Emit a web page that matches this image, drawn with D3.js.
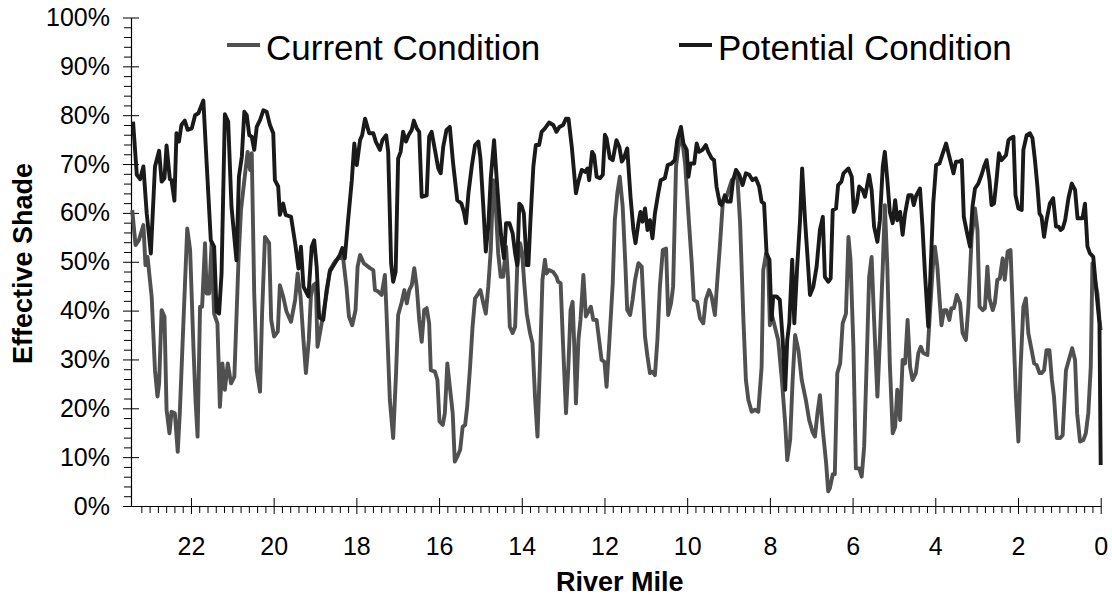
<!DOCTYPE html>
<html>
<head>
<meta charset="utf-8">
<script src="https://cdn.jsdelivr.net/npm/d3@7"></script>
<style>
  body { margin: 0; background: #fff; }
  text { font-family: "Liberation Sans", Arial, sans-serif; fill: #000; }
</style>
</head>
<body>
<div id="grafico"></div>
<script>
// River mile vs effective shade (%)

const currentCondition = [
  [23.42,60.6],[23.34,53.4],[23.26,54.4],[23.15,57.5],[23.10,49.3],[23.05,51.0],[22.95,42.8],[22.87,27.8],[22.81,22.4],[22.77,25.1],
  [22.71,40.1],[22.64,38.8],[22.59,19.7],[22.52,14.9],[22.47,19.3],[22.39,19.0],[22.32,11.1],[22.27,19.0],[22.19,36.0],[22.09,56.8],
  [22.02,52.4],[21.94,32.6],[21.89,21.7],[21.84,14.2],[21.78,40.8],[21.73,40.8],[21.66,53.8],[21.62,43.5],[21.56,43.5],[21.50,53.8],
  [21.44,39.4],[21.36,37.4],[21.30,20.3],[21.24,29.2],[21.18,23.8],[21.11,29.2],[21.03,25.1],[20.95,26.5],[20.85,50.4],[20.79,60.6],
  [20.69,68.1],[20.63,72.5],[20.57,68.8],[20.53,72.2],[20.47,43.5],[20.41,27.8],[20.33,23.4],[20.28,39.4],[20.21,55.1],[20.11,53.8],
  [20.06,38.1],[19.99,34.7],[19.90,35.7],[19.85,45.2],[19.77,42.9],[19.69,39.8],[19.58,37.7],[19.48,42.2],[19.42,47.6],[19.35,42.9],
  [19.28,34.0],[19.22,27.2],[19.15,34.0],[19.10,42.9],[19.04,45.2],[18.98,45.6],[18.94,32.6],[18.88,35.4],[18.80,39.4],[18.72,43.5],
  [18.64,48.3],[18.52,50.0],[18.40,51.0],[18.32,50.7],[18.24,44.9],[18.18,38.8],[18.10,37.0],[18.02,40.1],[17.97,49.0],[17.91,51.4],
  [17.82,49.7],[17.67,48.7],[17.59,48.3],[17.55,44.2],[17.47,43.9],[17.39,43.2],[17.31,47.3],[17.27,39.4],[17.19,21.7],[17.11,13.9],
  [17.04,27.2],[16.99,39.1],[16.91,41.5],[16.84,44.2],[16.78,41.5],[16.72,44.2],[16.66,45.2],[16.60,48.7],[16.54,44.9],[16.48,38.1],
  [16.42,33.6],[16.36,40.1],[16.30,40.5],[16.24,37.4],[16.20,27.8],[16.10,27.5],[16.04,25.8],[15.99,17.3],[15.91,16.6],[15.86,19.0],
  [15.80,29.2],[15.74,24.4],[15.67,19.0],[15.62,9.1],[15.56,10.1],[15.49,11.5],[15.43,16.2],[15.37,16.6],[15.32,20.3],[15.25,28.5],
  [15.19,36.7],[15.13,42.5],[15.05,43.5],[15.00,44.2],[14.93,41.5],[14.87,39.4],[14.81,44.9],[14.75,52.4],[14.69,66.7],[14.62,59.9],
  [14.57,51.7],[14.51,46.9],[14.45,46.9],[14.38,53.1],[14.33,46.3],[14.29,36.7],[14.22,35.4],[14.16,36.7],[14.11,49.0],[14.04,53.8],
  [13.99,51.7],[13.94,45.6],[13.88,39.4],[13.80,35.4],[13.74,33.3],[13.68,22.4],[13.62,14.2],[13.56,29.2],[13.50,46.3],[13.44,50.4],
  [13.40,47.6],[13.34,48.3],[13.24,47.9],[13.16,46.9],[13.12,45.9],[13.06,45.6],[13.00,32.6],[12.93,19.0],[12.87,29.2],[12.82,40.1],
  [12.77,41.8],[12.73,32.6],[12.69,21.0],[12.63,34.0],[12.58,38.1],[12.51,47.3],[12.45,38.8],[12.39,39.8],[12.33,40.8],[12.27,38.1],
  [12.19,38.1],[12.12,33.3],[12.07,29.9],[12.00,29.5],[11.95,24.4],[11.88,34.0],[11.80,45.6],[11.75,58.5],[11.69,64.0],[11.63,67.4],
  [11.56,61.3],[11.50,50.4],[11.45,40.1],[11.38,39.1],[11.32,42.2],[11.26,46.3],[11.18,49.7],[11.10,49.0],[11.02,34.7],[10.96,30.6],
  [10.90,27.2],[10.84,27.5],[10.78,26.8],[10.72,34.0],[10.66,44.9],[10.59,52.4],[10.51,52.7],[10.46,39.1],[10.39,41.5],[10.34,44.9],
  [10.27,69.5],[10.21,73.5],[10.13,75.6],[10.05,70.1],[9.95,57.2],[9.89,49.7],[9.84,42.2],[9.76,41.8],[9.69,38.4],[9.61,37.4],
  [9.55,42.2],[9.47,44.2],[9.41,42.9],[9.33,39.1],[9.27,46.3],[9.21,53.1],[9.14,61.9],[9.05,63.3],[8.92,66.7],[8.79,67.8],
  [8.72,57.9],[8.64,38.1],[8.58,25.8],[8.52,21.7],[8.44,19.3],[8.36,19.7],[8.28,19.3],[8.20,28.5],[8.16,48.3],[8.09,51.7],
  [8.04,49.0],[8.00,37.0],[7.96,39.4],[7.88,36.7],[7.80,34.0],[7.71,25.8],[7.63,16.9],[7.58,9.4],[7.51,13.5],[7.45,25.8],
  [7.39,35.0],[7.31,31.9],[7.23,25.8],[7.13,21.7],[7.05,17.6],[6.97,15.2],[6.91,14.2],[6.85,19.0],[6.79,22.7],[6.72,15.6],
  [6.64,8.8],[6.59,3.0],[6.55,3.6],[6.48,6.5],[6.43,6.5],[6.37,27.2],[6.30,29.2],[6.24,37.4],[6.16,39.4],[6.10,55.1],
  [6.05,50.4],[5.98,32.6],[5.92,7.7],[5.84,7.7],[5.78,6.0],[5.72,12.2],[5.66,29.2],[5.60,46.9],[5.54,51.0],[5.48,38.1],
  [5.40,22.4],[5.34,34.0],[5.27,49.0],[5.22,61.6],[5.16,49.0],[5.10,29.2],[5.03,14.9],[4.97,16.2],[4.92,23.8],[4.85,17.6],
  [4.79,29.9],[4.73,29.2],[4.67,38.1],[4.61,28.5],[4.55,25.8],[4.47,27.2],[4.41,31.3],[4.35,32.6],[4.29,31.3],[4.19,30.9],
  [4.14,38.1],[4.06,49.0],[4.01,53.1],[3.95,49.0],[3.89,41.5],[3.85,37.0],[3.79,40.1],[3.73,40.1],[3.66,38.1],[3.61,40.5],
  [3.55,40.5],[3.48,43.2],[3.40,41.5],[3.34,35.4],[3.26,34.0],[3.20,40.8],[3.12,55.1],[3.04,60.9],[2.98,56.5],[2.93,40.8],
  [2.85,40.1],[2.80,40.5],[2.74,49.0],[2.69,42.5],[2.61,40.1],[2.56,41.5],[2.50,46.3],[2.44,46.6],[2.37,50.7],[2.32,46.3],
  [2.25,52.1],[2.18,52.4],[2.11,36.0],[2.05,22.4],[1.99,13.2],[1.94,27.8],[1.87,40.8],[1.81,42.5],[1.75,35.4],[1.67,31.9],
  [1.61,29.2],[1.55,28.9],[1.48,27.2],[1.43,27.2],[1.37,27.8],[1.31,31.9],[1.24,31.9],[1.18,25.8],[1.13,22.4],[1.06,13.9],
  [0.98,13.9],[0.92,14.5],[0.84,27.8],[0.76,30.2],[0.69,32.3],[0.62,29.9],[0.57,19.0],[0.50,13.2],[0.42,13.5],[0.36,14.9],
  [0.30,19.0],[0.24,28.5],[0.20,49.7],[0.14,46.3],[0.08,43.5],[0.03,38.1],[0.00,36.0]
];

const potentialCondition = [
  [23.40,78.7],[23.31,67.8],[23.23,66.9],[23.15,69.5],[23.07,59.9],[22.97,51.7],[22.87,69.5],[22.77,72.7],[22.71,66.4],[22.64,67.1],
  [22.59,73.8],[22.51,66.9],[22.47,66.7],[22.40,62.5],[22.35,76.3],[22.29,74.6],[22.23,78.0],[22.15,78.9],[22.08,77.0],[21.98,77.3],
  [21.90,80.0],[21.82,80.4],[21.70,83.0],[21.62,70.1],[21.52,54.4],[21.44,53.1],[21.38,39.8],[21.32,39.4],[21.26,47.6],[21.18,80.2],
  [21.10,78.7],[21.02,61.3],[20.90,50.3],[20.84,67.4],[20.77,71.5],[20.71,80.7],[20.65,80.0],[20.59,75.9],[20.53,75.6],[20.47,72.9],
  [20.41,77.6],[20.33,79.0],[20.25,81.0],[20.17,80.7],[20.09,78.0],[20.01,76.3],[19.97,66.7],[19.89,65.4],[19.85,59.6],[19.77,61.9],
  [19.71,59.6],[19.58,59.2],[19.48,53.8],[19.40,48.6],[19.34,53.1],[19.28,44.9],[19.16,42.9],[19.08,53.1],[19.02,54.4],[18.96,49.0],
  [18.90,38.6],[18.80,38.1],[18.72,44.2],[18.64,48.0],[18.52,49.7],[18.40,51.4],[18.34,52.8],[18.28,50.7],[18.20,58.5],[18.11,66.7],
  [18.05,74.2],[17.99,69.8],[17.91,74.9],[17.86,75.9],[17.79,79.3],[17.69,76.3],[17.59,76.3],[17.53,74.6],[17.43,72.9],[17.37,74.9],
  [17.28,75.9],[17.23,72.5],[17.16,49.7],[17.11,45.9],[17.05,48.0],[16.99,71.1],[16.93,72.5],[16.87,76.6],[16.80,74.6],[16.74,75.9],
  [16.66,77.0],[16.61,78.9],[16.54,77.3],[16.48,76.6],[16.42,63.3],[16.30,63.6],[16.24,75.6],[16.18,76.6],[16.10,72.9],[16.02,69.1],
  [15.96,68.1],[15.90,73.5],[15.82,77.0],[15.74,77.6],[15.66,70.1],[15.56,62.6],[15.46,61.9],[15.40,60.2],[15.35,57.9],[15.29,64.0],
  [15.21,69.5],[15.13,73.9],[15.05,74.6],[15.00,71.2],[14.93,61.3],[14.87,52.1],[14.81,57.2],[14.75,67.1],[14.67,74.9],[14.61,67.4],
  [14.54,59.2],[14.49,54.4],[14.43,50.7],[14.38,57.9],[14.30,57.9],[14.22,55.8],[14.16,51.7],[14.11,49.3],[14.06,61.9],[14.00,61.3],
  [13.95,59.9],[13.88,49.3],[13.84,49.3],[13.79,58.5],[13.72,69.5],[13.66,73.9],[13.58,73.9],[13.52,76.6],[13.44,77.3],[13.34,78.5],
  [13.24,78.0],[13.16,76.6],[13.09,77.6],[13.00,78.0],[12.93,79.3],[12.87,79.3],[12.79,73.5],[12.69,64.0],[12.63,66.4],[12.55,68.8],
  [12.47,68.4],[12.41,69.1],[12.37,66.7],[12.30,72.5],[12.25,71.8],[12.19,67.4],[12.11,67.1],[12.04,67.8],[11.99,76.0],[11.95,75.3],
  [11.87,71.2],[11.80,70.8],[11.71,74.9],[11.64,73.5],[11.58,70.5],[11.53,71.2],[11.45,73.2],[11.37,63.3],[11.30,56.5],[11.25,53.8],
  [11.18,57.9],[11.13,60.2],[11.08,58.2],[11.02,60.9],[10.96,56.5],[10.90,58.5],[10.84,54.8],[10.78,59.9],[10.70,64.0],[10.64,66.7],
  [10.54,67.1],[10.47,69.8],[10.38,70.1],[10.30,70.8],[10.24,74.9],[10.15,77.6],[10.09,74.2],[10.01,72.9],[9.97,67.4],[9.92,70.1],
  [9.83,70.1],[9.77,74.2],[9.71,72.5],[9.63,72.9],[9.55,73.9],[9.49,72.5],[9.41,71.2],[9.35,70.8],[9.29,65.4],[9.21,61.9],
  [9.17,61.6],[9.09,63.6],[9.03,62.3],[8.95,62.3],[8.89,66.7],[8.82,68.8],[8.74,67.8],[8.66,65.7],[8.58,68.1],[8.50,67.8],
  [8.42,66.7],[8.34,67.1],[8.26,65.4],[8.20,62.3],[8.14,61.9],[8.08,51.7],[8.01,50.4],[7.96,38.1],[7.92,42.9],[7.84,42.9],
  [7.76,42.2],[7.69,34.0],[7.63,23.8],[7.58,34.0],[7.53,37.4],[7.46,50.4],[7.41,37.4],[7.34,49.0],[7.27,58.5],[7.22,69.1],
  [7.15,58.5],[7.09,51.0],[7.03,43.2],[6.95,44.9],[6.87,49.0],[6.79,56.5],[6.72,59.2],[6.67,46.9],[6.59,45.9],[6.53,46.6],
  [6.48,60.6],[6.40,60.9],[6.35,65.7],[6.27,66.4],[6.22,68.1],[6.10,69.1],[6.02,67.4],[5.97,60.2],[5.90,61.9],[5.84,65.4],
  [5.76,64.7],[5.70,63.3],[5.60,67.8],[5.54,64.7],[5.48,57.2],[5.40,54.1],[5.34,58.5],[5.27,69.5],[5.22,72.5],[5.16,66.7],
  [5.10,60.2],[5.03,57.9],[4.97,62.6],[4.92,58.5],[4.85,60.2],[4.79,55.5],[4.73,59.9],[4.65,63.6],[4.57,63.6],[4.52,61.6],
  [4.46,63.6],[4.37,65.0],[4.31,57.2],[4.25,47.6],[4.17,36.7],[4.11,49.0],[4.05,61.9],[3.98,69.8],[3.90,70.1],[3.82,72.2],
  [3.74,74.2],[3.66,71.5],[3.56,68.1],[3.50,70.5],[3.42,70.5],[3.36,70.8],[3.31,59.2],[3.23,55.8],[3.16,53.1],[3.10,61.3],
  [3.04,65.0],[2.96,66.0],[2.88,67.8],[2.82,69.5],[2.76,70.8],[2.69,66.7],[2.64,61.6],[2.58,61.9],[2.52,66.7],[2.46,72.2],
  [2.40,70.8],[2.29,71.8],[2.23,74.9],[2.18,75.3],[2.11,75.6],[2.06,63.6],[1.99,60.9],[1.91,60.6],[1.87,72.9],[1.79,75.9],
  [1.71,76.3],[1.65,75.3],[1.59,70.8],[1.53,65.4],[1.48,59.9],[1.43,59.2],[1.37,55.1],[1.31,58.5],[1.23,61.9],[1.15,63.0],
  [1.08,57.2],[1.02,57.2],[0.97,56.5],[0.92,56.8],[0.86,58.5],[0.78,63.0],[0.70,66.0],[0.62,64.7],[0.56,58.9],[0.50,58.9],
  [0.44,58.9],[0.38,61.9],[0.32,53.1],[0.26,51.7],[0.18,51.0],[0.10,43.5],[0.03,37.4],[0.00,8.4]
];

const mileTicks = [22, 20, 18, 16, 14, 12, 10, 8, 6, 4, 2, 0];
const shadeTicks = [0, 10, 20, 30, 40, 50, 60, 70, 80, 90, 100];
const seriesNames = ["Current Condition", "Potential Condition"];
const seriesColors = ["#505050", "#1a1a1a"];

const width = 1112;
const height = 599;
const margin = { top: 17.5, right: 11.3, bottom: 93, left: 131 };

const svg = d3.select("#grafico")
  .append("svg")
  .attr("width", width)
  .attr("height", height);

const x = d3.scaleLinear()
  .domain([23.45, 0])
  .range([margin.left, width - margin.right]);

const y = d3.scaleLinear()
  .domain([0, 100])
  .range([height - margin.bottom, margin.top]);

const x0 = height - margin.bottom;

// eje X: menores cada 0.2 milla, mayores cada 2
const minorMiles = d3.range(0, 117).map(i => +(i * 0.2).toFixed(1)).filter(m => m % 2 !== 0);

svg.append("g")
  .attr("transform", `translate(0,${x0})`)
  .call(d3.axisBottom(x).tickValues(minorMiles).tickSize(7).tickFormat(""))
  .call(g => g.select(".domain").remove())
  .selectAll("line").attr("stroke", "#000");

const ejeX = svg.append("g")
  .attr("transform", `translate(0,${x0})`)
  .call(d3.axisBottom(x).tickValues(mileTicks).tickSize(8).tickSizeOuter(0).tickPadding(23).tickFormat(d3.format("d")));
ejeX.selectAll(".tick line").attr("y1", -8).attr("stroke", "#000");
ejeX.select(".domain").attr("stroke", "#000").attr("stroke-width", 1.2);
ejeX.selectAll("text").style("font-size", "25px");

// eje Y: menores cada 2%
const minorShade = d3.range(0, 101, 2).filter(v => v % 10 !== 0);

svg.append("g")
  .attr("transform", `translate(${margin.left},0)`)
  .call(d3.axisLeft(y).tickValues(minorShade).tickSize(7).tickFormat(""))
  .call(g => g.select(".domain").remove())
  .selectAll("line").attr("stroke", "#000");

const ejeY = svg.append("g")
  .attr("transform", `translate(${margin.left},0)`)
  .call(d3.axisLeft(y).tickValues(shadeTicks).tickSize(8).tickSizeOuter(0).tickPadding(13).tickFormat(d => d + "%"));
ejeY.selectAll(".tick line").attr("x1", 8).attr("stroke", "#000");
ejeY.select(".domain").attr("stroke", "#000").attr("stroke-width", 1.2);
ejeY.selectAll("text").style("font-size", "25px");

// títulos
svg.append("text")
  .attr("x", (margin.left + width - margin.right) / 2 + 4)
  .attr("y", 591)
  .attr("text-anchor", "middle")
  .style("font-size", "27px")
  .style("font-weight", "bold")
  .text("River Mile");

svg.append("text")
  .attr("transform", "translate(32,263.5) rotate(-90)")
  .attr("text-anchor", "middle")
  .style("font-size", "27px")
  .style("font-weight", "bold")
  .text("Effective Shade");

// líneas
const linea = d3.line()
  .x(d => x(d[0]))
  .y(d => y(d[1]));

[currentCondition, potentialCondition].forEach((serie, i) => {
  svg.append("path")
    .datum(serie)
    .attr("fill", "none")
    .attr("stroke", seriesColors[i])
    .attr("stroke-width", 3.9)
    .attr("stroke-linejoin", "round")
    .attr("d", linea);
});

// leyenda
const leyendaX = [227, 679];
seriesNames.forEach((nombre, i) => {
  const g = svg.append("g").attr("transform", `translate(${leyendaX[i]},45)`);
  g.append("line")
    .attr("x1", 0).attr("x2", 33)
    .attr("stroke", seriesColors[i])
    .attr("stroke-width", 3.9);
  g.append("text")
    .attr("x", 39)
    .attr("y", 15)
    .style("font-size", "35px")
    .text(nombre);
});
</script>
</body>
</html>
